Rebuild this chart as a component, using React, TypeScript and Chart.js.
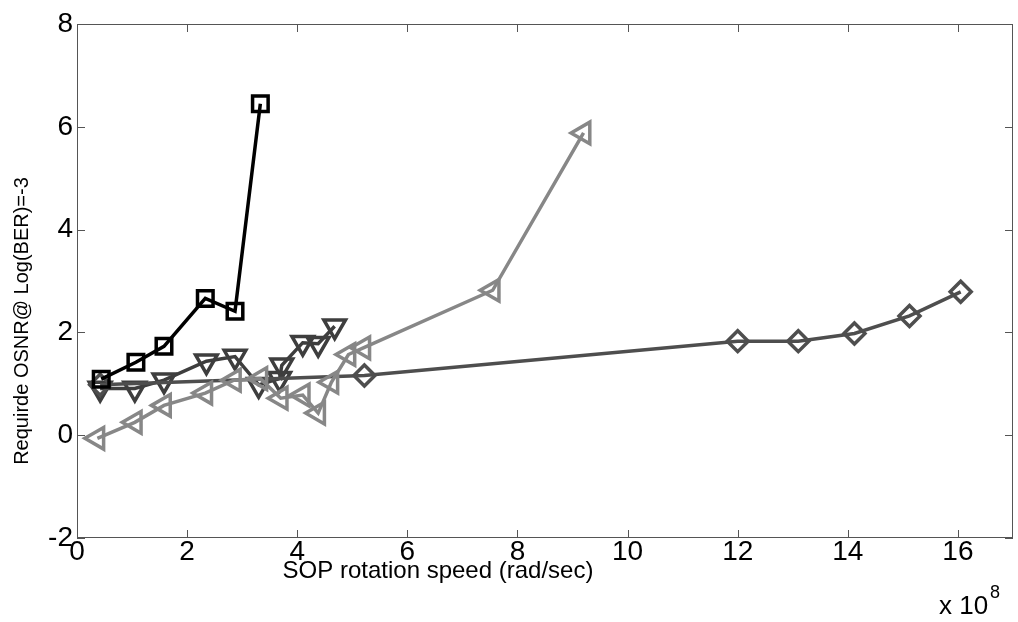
import React, { useEffect, useRef } from "react";
import { Chart, registerables } from "chart.js";

Chart.register(...registerables);

const squareX = [0.44, 1.07, 1.58, 2.33, 2.87, 3.33];
const squareY = [1.09, 1.42, 1.73, 2.66, 2.41, 6.45];

const triDownX = [0.42, 1.05, 1.58, 2.35, 2.87, 3.3, 3.68, 3.72, 4.1, 4.38, 4.68];
const triDownY = [0.91, 0.91, 1.07, 1.44, 1.53, 0.98, 1.1, 1.36, 1.8, 1.78, 2.12];

const diamondX = [0.42, 5.22, 12.0, 13.1, 14.12, 15.12, 16.05];
const diamondY = [0.98, 1.16, 1.83, 1.83, 1.98, 2.32, 2.79];

const triLeftX = [0.37, 1.05, 1.58, 2.33, 2.85, 3.33, 3.7, 4.1, 4.38, 4.62, 4.93, 5.2, 7.55, 9.2];
const triLeftY = [-0.06, 0.25, 0.58, 0.82, 1.07, 1.1, 0.72, 0.78, 0.43, 1.03, 1.57, 1.7, 2.82, 5.88];

const xTicks = [0, 2, 4, 6, 8, 10, 12, 14, 16];
const yTicks = [-2, 0, 2, 4, 6, 8];

const xTitle = "SOP rotation speed (rad/sec)";
const yTitle = "Requirde OSNR@ Log(BER)=-3";

const FONT = "'Liberation Sans', Arial, sans-serif";

const toPts = (xs: number[], ys: number[]) => xs.map((x, i) => ({ x, y: ys[i] }));

const framePlugin = {
  id: "matlabFrame",
  beforeDatasetsDraw(chart: any) {
    const { ctx, chartArea } = chart;
    const xs = chart.scales.x;
    const ys = chart.scales.y;
    const { left, right, top, bottom } = chartArea;
    ctx.save();
    ctx.strokeStyle = "#555555";
    ctx.lineWidth = 1;
    ctx.strokeRect(left + 0.5, top + 0.5, right - left - 1, bottom - top - 1);
    const tl = 8;
    ctx.beginPath();
    xTicks.forEach((v) => {
      const px = Math.round(xs.getPixelForValue(v)) + 0.5;
      ctx.moveTo(px, bottom);
      ctx.lineTo(px, bottom - tl);
      ctx.moveTo(px, top);
      ctx.lineTo(px, top + tl);
    });
    yTicks.forEach((v) => {
      const py = Math.round(ys.getPixelForValue(v)) + 0.5;
      ctx.moveTo(left, py);
      ctx.lineTo(left + tl, py);
      ctx.moveTo(right, py);
      ctx.lineTo(right - tl, py);
    });
    ctx.stroke();
    ctx.restore();
  },
  afterDraw(chart: any) {
    const { ctx, chartArea } = chart;
    const xs = chart.scales.x;
    ctx.save();
    ctx.fillStyle = "#000";
    ctx.textAlign = "center";
    ctx.textBaseline = "top";
    ctx.font = `28px ${FONT}`;
    xTicks.forEach((v) => {
      ctx.fillText(String(v), xs.getPixelForValue(v), chartArea.bottom);
    });
    ctx.textBaseline = "middle";
    ctx.font = `24px ${FONT}`;
    ctx.fillText(xTitle, 438, 571);
    ctx.font = `20px ${FONT}`;
    ctx.save();
    ctx.translate(22, 321);
    ctx.rotate(-Math.PI / 2);
    ctx.fillText(yTitle, 0, 0);
    ctx.restore();
    ctx.textAlign = "left";
    ctx.textBaseline = "alphabetic";
    ctx.font = `26px ${FONT}`;
    ctx.fillText("x 10", 939, 614);
    ctx.font = `18px ${FONT}`;
    ctx.fillText("8", 990, 598);
    ctx.restore();
  },
};

export default function App() {
  const ref = useRef<HTMLCanvasElement | null>(null);
  useEffect(() => {
    if (!ref.current) return;
    const common = {
      showLine: true,
      tension: 0,
      borderWidth: 3.5,
      pointBorderWidth: 3.5,
      pointBackgroundColor: "rgba(0,0,0,0)",
      fill: false,
    };
    const chart = new Chart(ref.current, {
      type: "scatter",
      data: {
        datasets: [
          {
            ...common,
            label: "square",
            data: toPts(squareX, squareY),
            borderColor: "#000000",
            pointBorderColor: "#000000",
            pointStyle: "rect",
            pointRadius: 11,
          },
          {
            ...common,
            label: "left",
            data: toPts(triLeftX, triLeftY),
            borderColor: "#878787",
            pointBorderColor: "#878787",
            pointStyle: "triangle",
            rotation: 270,
            pointRadius: 12.5,
          },
          {
            ...common,
            label: "diamond",
            data: toPts(diamondX, diamondY),
            borderColor: "#4e4e4e",
            pointBorderColor: "#4e4e4e",
            pointStyle: "rectRot",
            pointRadius: 10.5,
          },
          {
            ...common,
            label: "down",
            data: toPts(triDownX, triDownY),
            borderColor: "#3e3e3e",
            pointBorderColor: "#3e3e3e",
            pointStyle: "triangle",
            rotation: 180,
            pointRadius: 12.5,
          },
        ],
      } as any,
      options: {
        responsive: false,
        animation: false,
        layout: { autoPadding: false, padding: { top: 24, right: 5, left: 0, bottom: 0 } },
        plugins: {
          legend: { display: false },
          tooltip: { enabled: false },
          title: { display: false },
        },
        scales: {
          x: {
            type: "linear",
            min: 0,
            max: 17,
            grid: { display: false, drawTicks: false },
            border: { display: false },
            ticks: { display: false, stepSize: 2 },
            afterFit(scale: any) {
              scale.height = 84;
            },
          },
          y: {
            type: "linear",
            min: -2,
            max: 8,
            grid: { display: false, drawTicks: false },
            border: { display: false },
            ticks: {
              stepSize: 2,
              padding: 4,
              color: "#000",
              font: { family: FONT, size: 28 },
            },
            afterFit(scale: any) {
              scale.width = 77;
            },
          },
        },
      } as any,
      plugins: [framePlugin],
    });
    return () => chart.destroy();
  }, []);
  return (
    <canvas
      ref={ref}
      width={1018}
      height={622}
      style={{ position: "absolute", left: 0, top: 0, width: 1018, height: 622 }}
    />
  );
}
